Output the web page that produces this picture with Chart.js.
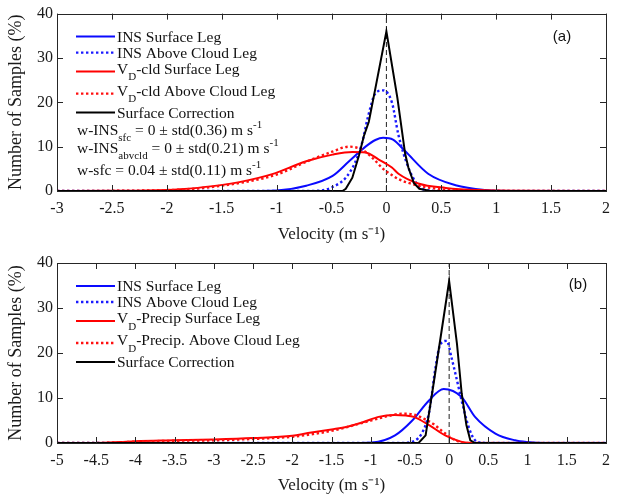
<!DOCTYPE html>
<html>
<head>
<meta charset="utf-8">
<script src="https://cdn.jsdelivr.net/npm/chart.js@4.4.0/dist/chart.umd.min.js"></script>
<style>
  html, body { margin: 0; padding: 0; background: #fff; }
  .panel { position: absolute; left: 0; width: 618px; height: 248px; }
  #wrapA { top: 0; }
  #wrapB { top: 248px; }
</style>
</head>
<body>
<div class="panel" id="wrapA"><canvas id="chartA" width="618" height="248"></canvas></div>
<div class="panel" id="wrapB"><canvas id="chartB" width="618" height="248"></canvas></div>
<script>
// tick labels
const xTicksA = [-3, -2.5, -2, -1.5, -1, -0.5, 0, 0.5, 1, 1.5, 2];
const xTicksB = [-5, -4.5, -4, -3.5, -3, -2.5, -2, -1.5, -1, -0.5, 0, 0.5, 1, 1.5, 2];
const yTicks = [0, 10, 20, 30, 40];

// panel (a) - velocity (m/s) and number of samples (%)
const insSfcVelA = [-3, -1.2, -1.0, -0.73, -0.49, -0.34, -0.19, -0.1, -0.03, 0.06, 0.17, 0.38, 0.63, 0.9, 1.1, 2];
const insSfcPctA = [0, 0, 0.1, 1.2, 3.4, 6.7, 10, 11.5, 12, 11.6, 9, 3.9, 1.3, 0.2, 0, 0];
const insAbvVelA = [-3, -0.8, -0.6, -0.49, -0.37, -0.28, -0.22, -0.17, -0.1, -0.03, 0.05, 0.11, 0.2, 0.29, 0.37, 0.5, 2];
const insAbvPctA = [0, 0, 0.1, 0.9, 3, 6.7, 11, 16.5, 22, 22.7, 20, 12.6, 5.3, 1.2, 0.2, 0, 0];
const vdSfcVelA = [-3, -2.5, -2, -1.88, -1.58, -1.34, -1.04, -0.73, -0.49, -0.31, -0.19, -0.07, 0.05, 0.11, 0.29, 0.54, 0.84, 1.2, 2];
const vdSfcPctA = [0, 0.05, 0.25, 0.4, 1.1, 2.0, 3.8, 6.7, 8.2, 8.8, 8.7, 7.1, 5.3, 3.9, 1.7, 0.7, 0.2, 0.05, 0];
const vdAbvVelA = [-3, -2, -1.5, -1.0, -0.73, -0.5, -0.34, -0.22, -0.12, -0.03, 0.05, 0.11, 0.23, 0.38, 0.6, 1.0, 2];
const vdAbvPctA = [0, 0.2, 1.2, 3.7, 6.6, 8.8, 10, 9.3, 7.3, 5.0, 3.6, 2.7, 1.6, 0.8, 0.2, 0, 0];
const corrVelA = [-3, -0.4, -0.37, -0.31, -0.25, -0.205, -0.16, -0.1, 0, 0.1, 0.17, 0.2, 0.25, 0.3, 0.4, 2];
const corrPctA = [0, 0, 0.5, 3, 8, 12.4, 15.6, 23.2, 36, 21, 8.5, 5.3, 1.8, 0.5, 0, 0];

// panel (b)
const insSfcVelB = [-5, -1.2, -0.98, -0.69, -0.47, -0.26, -0.07, 0.16, 0.33, 0.59, 0.84, 1.0, 1.2, 2];
const insSfcPctB = [0, 0, 0.1, 1.7, 5, 9.4, 12, 10.2, 5.8, 2.1, 0.6, 0.2, 0, 0];
const insAbvVelB = [-5, -0.6, -0.52, -0.35, -0.26, -0.22, -0.18, -0.11, -0.03, 0.03, 0.1, 0.16, 0.25, 0.33, 0.41, 0.6, 2];
const insAbvPctB = [0, 0, 0.1, 2.1, 6.5, 10.9, 16.1, 22, 22.7, 19, 13.9, 9.4, 3.5, 0.6, 0.1, 0, 0];
const vdSfcVelB = [-5, -4.5, -4.2, -4, -3.5, -3, -2.5, -2, -1.8, -1.5, -1.3, -1.1, -0.9, -0.7, -0.55, -0.45, -0.25, -0.05, 0.15, 0.3, 2];
const vdSfcPctB = [0, 0, 0.2, 0.4, 0.6, 0.8, 1.1, 1.6, 2.2, 3, 3.6, 4.6, 5.8, 6.2, 6.1, 5.8, 3.9, 1.7, 0.3, 0, 0];
const vdAbvVelB = [-5, -4.5, -4, -3.5, -3, -2.5, -2, -1.5, -1.1, -0.8, -0.6, -0.45, -0.3, -0.2, -0.1, 0.05, 0.2, 2];
const vdAbvPctB = [0, 0, 0.3, 0.5, 0.6, 0.9, 1.4, 2.7, 4.5, 5.9, 6.5, 6.3, 5.2, 4.2, 2.8, 0.9, 0, 0];
const corrVelB = [-5, -0.39, -0.3, -0.2, -0.1, 0, 0.1, 0.16, 0.22, 0.27, 0.33, 2];
const corrPctB = [0, 0, 1.7, 13, 24.5, 36, 22, 11, 4, 0.6, 0, 0];

// dashed reference line at zero velocity
const zeroVel = [0, 0];
const zeroPct = [0, 40];

// legend / annotation text, as [text, 'sub'|'sup'|''] pieces
const legendA = [
  [['INS Surface Leg', '']],
  [['INS Above Cloud Leg', '']],
  [['V', ''], ['D', 'sub'], ['-cld Surface Leg', '']],
  [['V', ''], ['D', 'sub'], ['-cld Above Cloud Leg', '']],
  [['Surface Correction', '']]
];
const notesA = [
  [['w-INS', ''], ['sfc', 'sub'], [' = 0 \u00b1 std(0.36) m s', ''], ['-1', 'sup']],
  [['w-INS', ''], ['abvcld', 'sub'], [' = 0 \u00b1 std(0.21) m s', ''], ['-1', 'sup']],
  [['w-sfc = 0.04 \u00b1 std(0.11) m s', ''], ['-1', 'sup']]
];
const legendB = [
  [['INS Surface Leg', '']],
  [['INS Above Cloud Leg', '']],
  [['V', ''], ['D', 'sub'], ['-Precip Surface Leg', '']],
  [['V', ''], ['D', 'sub'], ['-Precip. Above Cloud Leg', '']],
  [['Surface Correction', '']]
];

const pts = (v, p) => v.map((x, i) => ({ x: x, y: p[i] }));

const SERIF = '"Liberation Serif", "Times New Roman", serif';

function drawRich(ctx, segs, x, y, size) {
  segs.forEach(([t, mode]) => {
    const s = mode ? Math.round(size * 0.72) : size;
    let dy = 0;
    if (mode === 'sub') dy = size * 0.42;
    if (mode === 'sup') dy = -size * 0.4;
    ctx.font = s + 'px ' + SERIF;
    ctx.fillText(t, x, y + dy);
    x += ctx.measureText(t).width;
  });
}

// matlab style box, inward ticks, legend and panel letter
const matlabBox = {
  id: 'matlabBox',
  afterDraw(chart, args, opts) {
    const { ctx, chartArea: a } = chart;
    const xs = chart.scales.x, ys = chart.scales.y;
    ctx.save();
    ctx.strokeStyle = '#262626';
    ctx.lineWidth = 1;
    ctx.setLineDash([]);
    ctx.strokeRect(Math.round(a.left) + 0.5, Math.round(a.top) + 0.5,
      Math.round(a.right - a.left), Math.round(a.bottom - a.top));
    const len = 6;
    ctx.beginPath();
    xs.ticks.forEach(t => {
      const px = Math.round(xs.getPixelForValue(t.value)) + 0.5;
      ctx.moveTo(px, a.bottom); ctx.lineTo(px, a.bottom - len);
      ctx.moveTo(px, a.top); ctx.lineTo(px, a.top + len);
    });
    ys.ticks.forEach(t => {
      const py = Math.round(ys.getPixelForValue(t.value)) + 0.5;
      ctx.moveTo(a.left, py); ctx.lineTo(a.left + len, py);
      ctx.moveTo(a.right, py); ctx.lineTo(a.right - len, py);
    });
    ctx.stroke();

    // legend rows
    ctx.fillStyle = '#111';
    ctx.textBaseline = 'alphabetic';
    ctx.textAlign = 'left';
    opts.rows.forEach((row, i) => {
      const ds = chart.data.datasets[row.ds];
      const y = a.top + row.dy;
      ctx.beginPath();
      ctx.strokeStyle = ds.borderColor;
      ctx.lineWidth = ds.borderWidth;
      ctx.setLineDash(ds.borderDash || []);
      ctx.moveTo(76, y);
      ctx.lineTo(115, y);
      ctx.stroke();
      const hasSub = opts.legend[i].some(s => s[1] === 'sub');
      drawRich(ctx, opts.legend[i], 117, y + (hasSub ? 2 : 5), 15.5);
    });
    ctx.setLineDash([]);
    (opts.notes || []).forEach((n, i) => {
      drawRich(ctx, n, 77, a.top + opts.noteY[i], 15.5);
    });

    ctx.font = '15px "Liberation Sans", Arial, sans-serif';
    ctx.textAlign = 'center';
    ctx.textBaseline = 'middle';
    ctx.fillText(opts.panel, opts.panelX, a.top + opts.panelDy);
    ctx.restore();
  }
};

function series(defs) {
  return [
    { data: pts(defs[0][0], defs[0][1]), borderColor: '#0a0aff', borderWidth: 2, cubicInterpolationMode: 'monotone', order: 5 },
    { data: pts(defs[1][0], defs[1][1]), borderColor: '#1a1aff', borderWidth: 2.4, borderDash: [2.4, 2.6], cubicInterpolationMode: 'monotone', order: 4 },
    { data: pts(defs[2][0], defs[2][1]), borderColor: '#ff0000', borderWidth: 2, cubicInterpolationMode: 'monotone', order: 3 },
    { data: pts(defs[3][0], defs[3][1]), borderColor: '#ff1010', borderWidth: 2.4, borderDash: [2.4, 2.6], cubicInterpolationMode: 'monotone', order: 2 },
    { data: pts(defs[4][0], defs[4][1]), borderColor: '#000000', borderWidth: 2, tension: 0, order: 1 },
    { data: pts(zeroVel, zeroPct), borderColor: '#222222', borderWidth: 1, borderDash: [5, 3], tension: 0, order: 6 }
  ];
}

function makeChart(id, cfg) {
  return new Chart(document.getElementById(id), {
    type: 'line',
    data: { datasets: series(cfg.defs) },
    options: {
      responsive: false,
      animation: false,
      devicePixelRatio: 1,
      layout: { padding: { left: 0, right: 10, top: cfg.padTop, bottom: 0 } },
      elements: { point: { radius: 0 } },
      plugins: {
        legend: { display: false },
        tooltip: { enabled: false },
        matlabBox: cfg.box
      },
      scales: {
        x: {
          type: 'linear',
          min: cfg.xTicks[0],
          max: cfg.xTicks[cfg.xTicks.length - 1],
          afterBuildTicks: s => { s.ticks = cfg.xTicks.map(v => ({ value: v })); },
          afterFit: s => { s.height = cfg.xHeight; },
          grid: { display: false, drawTicks: false },
          border: { display: false },
          ticks: { padding: 8, color: '#1a1a1a', font: { family: SERIF, size: 16 }, maxRotation: 0, autoSkip: false, callback: v => String(v) },
          title: { display: true, text: 'Velocity (m s\u207b\u00b9)', color: '#1a1a1a', font: { family: SERIF, size: 17 }, padding: { top: 0, bottom: cfg.titlePad } }
        },
        y: {
          min: 0,
          max: 40,
          afterBuildTicks: s => { s.ticks = yTicks.map(v => ({ value: v })); },
          afterFit: s => { s.width = 57; },
          grid: { display: false, drawTicks: false },
          border: { display: false },
          ticks: { padding: 4, color: '#1a1a1a', font: { family: SERIF, size: 16 }, callback: v => String(v) },
          title: { display: true, text: 'Number of Samples (%)', color: '#1a1a1a', font: { family: SERIF, size: 18 }, padding: { top: 5, bottom: 0 } }
        }
      }
    },
    plugins: [matlabBox]
  });
}

const legendRows = [{ ds: 0, dy: 23 }, { ds: 1, dy: 39 }, { ds: 2, dy: 58 }, { ds: 3, dy: 80 }, { ds: 4, dy: 99 }];

makeChart('chartA', {
  defs: [[insSfcVelA, insSfcPctA], [insAbvVelA, insAbvPctA], [vdSfcVelA, vdSfcPctA], [vdAbvVelA, vdAbvPctA], [corrVelA, corrPctA]],
  xTicks: xTicksA,
  padTop: 9,
  xHeight: 57,
  titlePad: 3,
  box: { rows: legendRows, legend: legendA, notes: notesA, noteY: [121, 139, 161], panel: '(a)', panelX: 562, panelDy: 23 }
});

makeChart('chartB', {
  defs: [[insSfcVelB, insSfcPctB], [insAbvVelB, insAbvPctB], [vdSfcVelB, vdSfcPctB], [vdAbvVelB, vdAbvPctB], [corrVelB, corrPctB]],
  xTicks: xTicksB,
  padTop: 15,
  xHeight: 53,
  titlePad: 0,
  box: { rows: legendRows, legend: legendB, notes: [], noteY: [], panel: '(b)', panelX: 578, panelDy: 22 }
});
</script>
</body>
</html>
